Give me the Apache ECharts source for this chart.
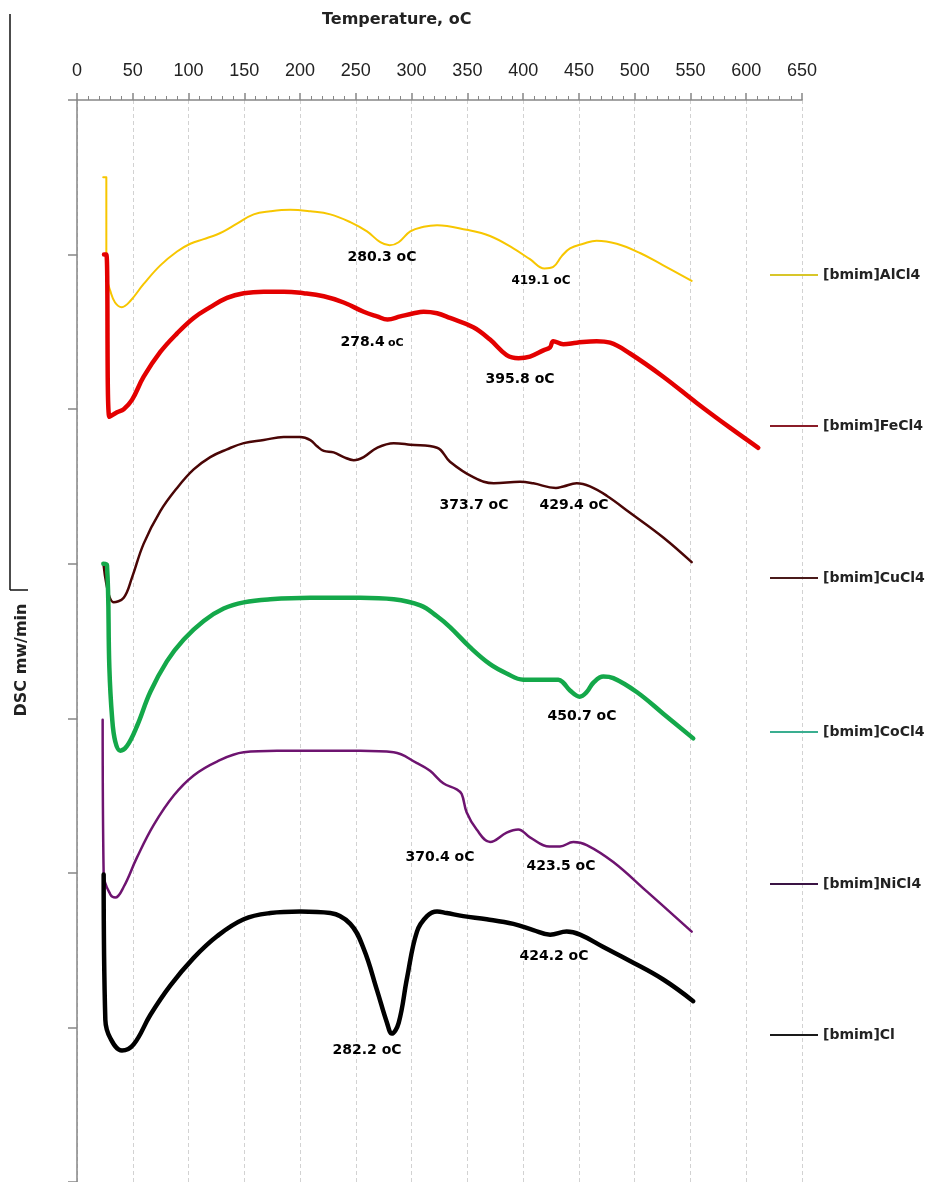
<!DOCTYPE html>
<html><head><meta charset="utf-8">
<script src="https://cdn.jsdelivr.net/npm/echarts@6/dist/echarts.min.js"></script>
<style>html,body{margin:0;padding:0;background:#fff}#c{width:938px;height:1182px}</style>
</head><body><div id="c"></div>
<script>
// ---- DATA (temperature °C, DSC signal in offset units; one y tick = 1 unit) ----
const seriesNames = ['[bmim]AlCl4','[bmim]FeCl4','[bmim]CuCl4','[bmim]CoCl4','[bmim]NiCl4','[bmim]Cl'];

const alcl4 = [[23.5,6.50],[26.3,6.50],[26.3,6.01],[27.4,5.83],[29.6,5.77],[34.1,5.69],[40.1,5.66],[47.8,5.70],[59.8,5.81],[74.7,5.93],[89.7,6.02],[101.6,6.07],[113.6,6.10],[125.5,6.13],[131.5,6.15],[143.4,6.20],[158.4,6.26],[173.3,6.28],[191.2,6.29],[209.2,6.28],[227.1,6.26],[245.0,6.21],[260.0,6.15],[271.9,6.08],[280.3,6.06],[288.4,6.08],[298.8,6.15],[310.8,6.18],[322.8,6.19],[349.4,6.16],[370.3,6.12],[391.2,6.04],[406.1,5.97],[419.1,5.91],[427.0,5.92],[434.6,5.99],[442.0,6.04],[453.9,6.07],[465.9,6.09],[483.9,6.07],[504.8,6.01],[525.6,5.93],[551.1,5.83]];

const fecl4 = [[24.2,6.00],[26.3,6.00],[29.0,4.95],[35.9,4.98],[41.9,5.00],[49.3,5.06],[59.8,5.21],[74.7,5.37],[89.7,5.49],[104.6,5.59],[119.5,5.66],[134.5,5.72],[149.5,5.75],[167.4,5.76],[185.3,5.76],[203.2,5.75],[221.2,5.73],[239.1,5.69],[257.0,5.63],[269.0,5.60],[278.4,5.58],[289.9,5.60],[301.9,5.62],[310.8,5.63],[322.8,5.62],[334.4,5.59],[355.3,5.53],[370.3,5.45],[385.2,5.35],[395.8,5.33],[406.1,5.34],[418.1,5.38],[424.1,5.40],[427.0,5.44],[436.0,5.42],[448.0,5.43],[465.9,5.44],[477.9,5.43],[495.8,5.36],[525.6,5.21],[555.6,5.04],[585.4,4.88],[610.8,4.75]];

const cucl4 = [[23.9,3.99],[32.9,3.75],[41.9,3.78],[49.3,3.91],[59.8,4.13],[74.7,4.34],[89.7,4.49],[104.6,4.61],[119.5,4.69],[134.5,4.74],[149.5,4.78],[167.4,4.80],[185.3,4.82],[200.2,4.82],[209.2,4.80],[215.2,4.76],[221.2,4.73],[230.1,4.72],[239.1,4.69],[248.1,4.67],[257.0,4.69],[269.0,4.75],[283.9,4.78],[298.8,4.77],[322.8,4.75],[334.4,4.66],[355.3,4.56],[373.7,4.52],[397.2,4.53],[409.1,4.52],[429.4,4.49],[436.0,4.50],[448.0,4.52],[459.9,4.50],[474.9,4.44],[495.8,4.33],[525.6,4.17],[551.1,4.01]];

const cocl4 = [[23.6,4.00],[26.9,3.99],[29.0,3.33],[31.4,3.01],[34.3,2.85],[38.8,2.79],[44.8,2.82],[53.8,2.95],[65.7,3.17],[80.7,3.37],[95.7,3.51],[113.6,3.63],[131.5,3.71],[149.5,3.75],[173.3,3.77],[209.2,3.78],[254.0,3.78],[283.9,3.77],[307.8,3.73],[322.8,3.66],[334.4,3.59],[352.3,3.46],[370.3,3.35],[385.2,3.29],[400.1,3.25],[415.1,3.25],[431.5,3.25],[436.0,3.23],[442.0,3.18],[450.7,3.14],[457.0,3.17],[462.9,3.23],[471.9,3.27],[480.8,3.26],[501.8,3.17],[525.6,3.03],[552.5,2.87]];

const nicl4 = [[23.0,2.99],[23.9,1.99],[29.9,1.86],[34.3,1.84],[41.9,1.91],[53.8,2.10],[68.8,2.31],[86.7,2.50],[104.6,2.63],[125.5,2.72],[149.5,2.78],[179.3,2.79],[209.2,2.79],[254.0,2.79],[283.9,2.78],[304.8,2.71],[316.5,2.66],[328.4,2.58],[340.4,2.54],[344.9,2.51],[349.4,2.39],[358.3,2.28],[370.4,2.20],[385.2,2.26],[395.6,2.28],[406.1,2.23],[423.5,2.17],[433.0,2.17],[445.0,2.20],[457.0,2.18],[480.8,2.07],[510.8,1.88],[551.1,1.62]];

const cl = [[23.9,1.99],[25.4,1.05],[29.9,0.93],[40.3,0.85],[50.8,0.89],[65.7,1.08],[83.6,1.27],[104.6,1.45],[125.5,1.59],[149.5,1.70],[173.3,1.74],[200.2,1.75],[227.1,1.74],[245.0,1.67],[257.0,1.51],[269.0,1.24],[277.9,1.03],[282.2,0.96],[288.4,1.03],[295.9,1.32],[304.8,1.62],[313.8,1.72],[322.8,1.75],[331.4,1.74],[346.3,1.72],[367.3,1.70],[391.2,1.67],[409.1,1.63],[424.2,1.60],[439.0,1.62],[451.0,1.60],[471.9,1.52],[495.8,1.43],[525.6,1.31],[552.5,1.17]];

// Peak annotations: peak temperature, and label anchor in data units
const peakTemps  = [280.3, 419.1, 278.4, 395.8, 373.7, 429.4, 450.7, 370.4, 423.5, 424.2, 282.2];
const peakLabelT = [273.4, 416.0, 264.5, 397.2, 355.9, 445.6, 452.7, 325.4, 433.9, 427.6, 260.0];
const peakLabelV = [5.98, 5.83, 5.43, 5.19, 4.38, 4.38, 3.01, 2.10, 2.04, 1.46, 0.85];

// ---- STYLE ----
const curveData = [alcl4, fecl4, cucl4, cocl4, nicl4, cl];
const lineColors = ['#F7C600', '#E30000', '#4A0606', '#14A84A', '#6E1470', '#000000'];
const lineWidths = [2, 4.5, 2.5, 4.5, 2.5, 4.5];
const legendColors = ['#D8C62A', '#8A1C28', '#4A1A1A', '#3AAE90', '#3A1444', '#1A1A1A'];
const legendCenters = [276, 427, 579, 733, 885, 1036];
const labelStyleKey = ['n','s','m','n','n','n','n','n','n','n','n'];

const chart = echarts.init(document.getElementById('c'));

const series = seriesNames.map((name, i) => ({
  name, type: 'line', data: curveData[i], showSymbol: false, symbol: 'none',
  smooth: 0.4, z: 3,
  lineStyle: { color: lineColors[i], width: lineWidths[i], cap: 'round', join: 'round' },
  itemStyle: { color: legendColors[i] },
  emphasis: { disabled: true }, silent: true
}));

const labelText = { fontFamily: 'DejaVu Sans', fontWeight: 'bold', color: '#000', textBorderWidth: 0, opacity: 1 };
series.push({
  name: 'peaks', type: 'scatter', symbolSize: 0, silent: true, z: 5,
  itemStyle: { color: '#000' },
  data: peakTemps.map((t, i) => ({ value: [peakLabelT[i], peakLabelV[i]], key: labelStyleKey[i], txt: t.toFixed(1) })),
  label: {
    show: true, position: [0, 0], align: 'center', verticalAlign: 'middle',
    color: '#000', textBorderWidth: 0, opacity: 1,
    formatter: p => {
      const k = p.data.key;
      if (k === 's') return '{s|' + p.data.txt + ' oC}';
      if (k === 'm') return '{n|' + p.data.txt + '} {m|oC}';
      return '{n|' + p.data.txt + ' oC}';
    },
    rich: {
      n: Object.assign({ fontSize: 14 }, labelText),
      s: Object.assign({ fontSize: 12 }, labelText),
      m: Object.assign({ fontSize: 11 }, labelText)
    }
  }
});

const legends = seriesNames.map((name, i) => ({
  data: [name], left: 770, top: legendCenters[i] - 8, padding: 0,
  icon: 'rect', itemWidth: 48, itemHeight: 2, itemGap: 5, selectedMode: false,
  textStyle: { fontFamily: 'DejaVu Sans', fontWeight: 'bold', fontSize: 14, color: '#222' }
}));

chart.setOption({
  animation: false,
  backgroundColor: '#fff',
  title: {
    text: 'Temperature, oC', left: 322, top: 12, padding: 0,
    textStyle: { fontFamily: 'DejaVu Sans', fontWeight: 'bold', fontSize: 16, color: '#222' }
  },
  legend: legends,
  grid: { left: 77, right: 136, top: 100, bottom: 0, containLabel: false },
  xAxis: {
    type: 'value', position: 'top', min: 0, max: 650, interval: 50,
    axisLine: { show: true, onZero: false, lineStyle: { color: '#868686', width: 1.5 } },
    axisTick: { show: true, inside: false, length: 7, lineStyle: { color: '#868686', width: 1.5 } },
    minorTick: { show: true, splitNumber: 5, length: 4, lineStyle: { color: '#868686', width: 1 } },
    axisLabel: { fontFamily: 'Liberation Sans', fontSize: 18, color: '#222', margin: 20 },
    splitLine: { show: true, lineStyle: { color: '#d2d2d2', type: [4, 3], width: 1 } }
  },
  yAxis: {
    type: 'value', min: 0, max: 7, interval: 1,
    axisLine: { show: true, onZero: false, lineStyle: { color: '#868686', width: 1.5 } },
    axisTick: { show: true, inside: false, length: 9, lineStyle: { color: '#868686', width: 1.5 } },
    axisLabel: { show: false },
    splitLine: { show: false }
  },
  graphic: [
    { type: 'text', x: 22, y: 660, rotation: Math.PI / 2,
      style: { text: 'DSC mw/min', fontFamily: 'DejaVu Sans', fontWeight: 'bold', fontSize: 16, fill: '#222', align: 'center', verticalAlign: 'middle' } },
    { type: 'line', shape: { x1: 10, y1: 14, x2: 10, y2: 590 }, style: { stroke: '#111', lineWidth: 1.5 } },
    { type: 'line', shape: { x1: 10, y1: 590, x2: 28, y2: 590 }, style: { stroke: '#111', lineWidth: 1.5 } }
  ],
  series
});
</script>
</body></html>
